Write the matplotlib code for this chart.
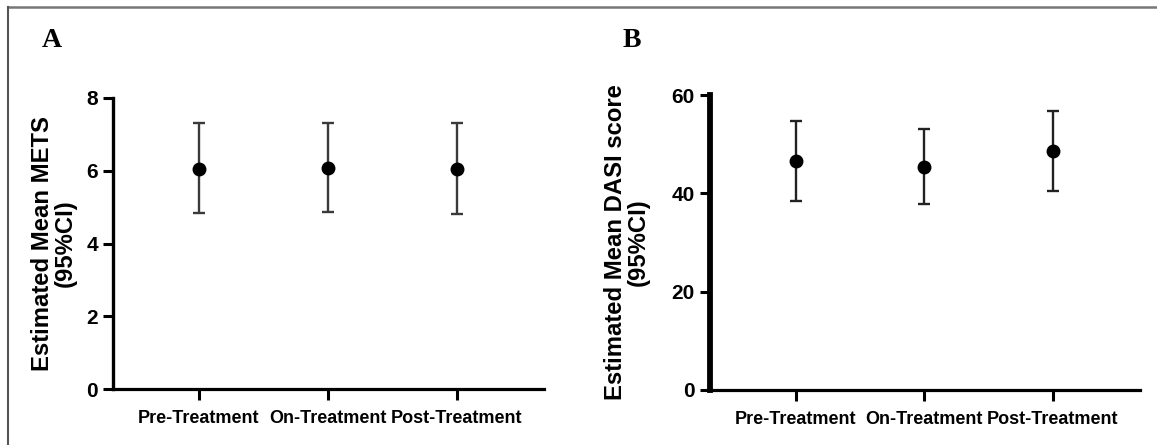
import matplotlib
matplotlib.use("Agg")
import matplotlib.pyplot as plt
from matplotlib.lines import Line2D

categories = ['Pre-Treatment', 'On-Treatment', 'Post-Treatment']

mets_mean = [6.06, 6.07, 6.04]
mets_low = [4.83, 4.86, 4.80]
mets_high = [7.30, 7.30, 7.30]

dasi_mean = [46.6, 45.3, 48.7]
dasi_low = [38.4, 37.8, 40.4]
dasi_high = [54.8, 53.0, 56.8]

FONT = ['Liberation Sans', 'DejaVu Sans']

fig = plt.figure(figsize=(11.57, 4.45), dpi=100)

# thin frame on top and left like the journal figure
fig.add_artist(Line2D([0.0066, 1.0], [0.985, 0.985], color='#777777', lw=1.8))
fig.add_artist(Line2D([0.0068, 0.0068], [0.0, 0.985], color='#555555', lw=1.5))


def panel(rect, means, lows, highs, ylim, yticks, ylabel, label_x, lw_y, tick_fs, ecol):
    ax = fig.add_axes(rect)
    x = list(range(len(categories)))
    err = [[m - l for m, l in zip(means, lows)], [h - m for m, h in zip(means, highs)]]
    ax.errorbar(x, means, yerr=err, fmt='o', color='black', ms=9,
                ecolor=ecol, elinewidth=1.7, capsize=4.6, capthick=1.7)
    ax.set_xlim(-0.665, 2.675)
    ax.set_ylim(*ylim)
    ax.set_yticks(yticks, labels=[str(v) for v in yticks], fontfamily=FONT,
                  fontweight='bold', fontsize=tick_fs)
    ax.set_xticks(x, labels=categories, fontfamily=FONT, fontweight='bold', fontsize=13)
    ax.spines['top'].set_visible(False)
    ax.spines['right'].set_visible(False)
    ax.spines['left'].set_linewidth(lw_y)
    ax.spines['bottom'].set_linewidth(2.3)
    ax.tick_params(axis='y', length=7, width=2.2, pad=4)
    ax.tick_params(axis='x', length=8, width=2.2, pad=7)
    ax.set_ylabel(ylabel, fontfamily=FONT, fontweight='bold', fontsize=17.2, linespacing=1.0)
    ax.yaxis.set_label_coords(label_x, 0.5)
    return ax


panel([0.0977, 0.1258, 0.3725, 0.654], mets_mean, mets_low, mets_high,
      (0, 8), [0, 2, 4, 6, 8], 'Estimated Mean METS\n(95%CI)', -0.084, 2.4, 15, '#3a3a3a')
panel([0.6137, 0.1236, 0.3713, 0.6629], dasi_mean, dasi_low, dasi_high,
      (0, 60), [0, 20, 40, 60], 'Estimated Mean DASI score\n(95%CI)', -0.14, 4.2, 15, '#222222')

fig.text(0.045, 0.91, 'A', fontfamily='Liberation Serif', fontweight='bold',
         fontsize=20, ha='center', va='center')
fig.text(0.546, 0.91, 'B', fontfamily='Liberation Serif', fontweight='bold',
         fontsize=20, ha='center', va='center')

fig.savefig('out.png', dpi=100)
